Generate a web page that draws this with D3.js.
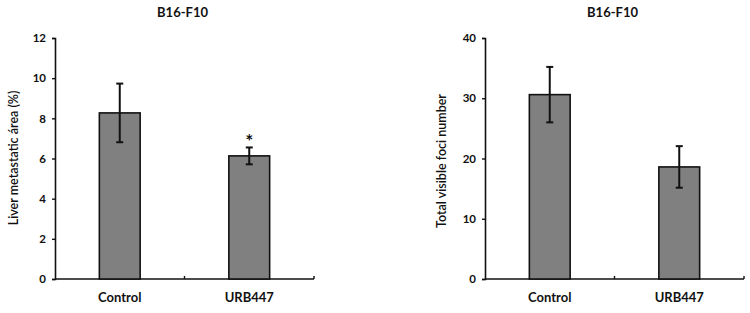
<!DOCTYPE html>
<meta charset="utf-8">
<script src="https://d3js.org/d3.v7.min.js"></script>
<style>
  body { margin: 0; background: #fff; }
  text { font-family: Lato, "Open Sans", sans-serif; font-weight: bold; fill: #111; }
</style>
<div id="chart"></div>
<script>

// data
var groups = ["Control", "URB447"];

var areaMean = [8.27, 6.13];
var areaErr = [1.46, 0.42];   // half-length of error bars
var areaTicks = [0, 2, 4, 6, 8, 10, 12];

var fociMean = [30.6, 18.6];
var fociErr = [4.6, 3.45];
var fociTicks = [0, 10, 20, 30, 40];

var svg = d3.select("#chart")
  .append("svg")
    .attr("width", 750)
    .attr("height", 313);

// one panel = title, y axis, bars, error bars
function panel(opts) {
  var g = svg.append("g")
    .attr("transform", "translate(" + opts.left + ",0)");

  var top = 38, bottom = 279, width = 259;

  var x = d3.scaleBand()
    .domain(groups)
    .range([0, width]);

  var y = d3.scaleLinear()
    .domain([0, opts.max])
    .range([bottom, top]);

  var barW = x.bandwidth() * 0.315;

  // title
  g.append("text")
    .attr("x", width / 2 - 2)
    .attr("y", 17)
    .attr("text-anchor", "middle")
    .style("font-size", "13px")
    .text("B16-F10");

  // y axis
  var yAxis = g.append("g")
    .call(d3.axisLeft(y).tickValues(opts.ticks).tickSize(3).tickPadding(6));
  yAxis.select(".domain").attr("stroke", "#111").attr("stroke-width", 1.6);
  yAxis.selectAll(".tick line").attr("stroke", "#111").attr("stroke-width", 1.4);
  yAxis.selectAll("text")
    .style("font-size", "11.5px")
    .style("font-family", "Lato, sans-serif")
    .style("font-weight", "bold")
    .attr("fill", "#111");

  // y label (x is relative to the panel)
  g.append("text")
    .attr("transform", "translate(" + opts.labelX + "," + opts.labelY + ")rotate(-90)")
    .attr("text-anchor", "middle")
    .style("font-size", "12.5px")
    .style("font-weight", "600")
    .text(opts.label);

  // x axis line with small inward ticks between categories
  g.append("line")
    .attr("x1", 0).attr("x2", width)
    .attr("y1", bottom).attr("y2", bottom)
    .attr("stroke", "#111").attr("stroke-width", 1.6);
  g.selectAll(".xtick")
    .data(groups)
    .enter()
    .append("line")
      .attr("x1", function(d) { return x(d) + x.bandwidth(); })
      .attr("x2", function(d) { return x(d) + x.bandwidth(); })
      .attr("y1", bottom)
      .attr("y2", bottom - 3)
      .attr("stroke", "#111").attr("stroke-width", 1.4);

  // x labels
  g.selectAll(".xlab")
    .data(groups)
    .enter()
    .append("text")
      .attr("x", function(d) { return x(d) + x.bandwidth() / 2; })
      .attr("y", 302)
      .attr("text-anchor", "middle")
      .style("font-size", "13px")
      .text(function(d) { return d; });

  // bars
  g.selectAll("rect")
    .data(opts.mean)
    .enter()
    .append("rect")
      .attr("x", function(d, i) { return x(groups[i]) + x.bandwidth() / 2 - barW / 2; })
      .attr("y", function(d) { return y(d); })
      .attr("width", barW)
      .attr("height", function(d) { return bottom - y(d); })
      .attr("fill", "#808080")
      .attr("stroke", "#111")
      .attr("stroke-width", 1.6);

  // error bars
  var eb = g.selectAll(".err")
    .data(opts.mean)
    .enter()
    .append("g");
  eb.append("line")
    .attr("x1", function(d, i) { return x(groups[i]) + x.bandwidth() / 2; })
    .attr("x2", function(d, i) { return x(groups[i]) + x.bandwidth() / 2; })
    .attr("y1", function(d, i) { return y(d + opts.err[i]); })
    .attr("y2", function(d, i) { return y(d - opts.err[i]); })
    .attr("stroke", "#111").attr("stroke-width", 2);
  [1, -1].forEach(function(s) {
    eb.append("line")
      .attr("x1", function(d, i) { return x(groups[i]) + x.bandwidth() / 2 - 3.5; })
      .attr("x2", function(d, i) { return x(groups[i]) + x.bandwidth() / 2 + 3.5; })
      .attr("y1", function(d, i) { return y(d + s * opts.err[i]); })
      .attr("y2", function(d, i) { return y(d + s * opts.err[i]); })
      .attr("stroke", "#111").attr("stroke-width", 2);
  });

  // significance mark
  if (opts.star != null) {
    var i = opts.star;
    g.append("text")
      .attr("x", x(groups[i]) + x.bandwidth() / 2)
      .attr("y", y(opts.mean[i] + opts.err[i]) + 1)
      .attr("text-anchor", "middle")
      .style("font-size", "19px")
      .text("*");
  }
}

panel({
  left: 55, max: 12, ticks: areaTicks, mean: areaMean, err: areaErr,
  label: "Liver metastatic área (%)", labelX: -37, labelY: 158, star: 1
});

panel({
  left: 485, max: 40, ticks: fociTicks, mean: fociMean, err: fociErr,
  label: "Total visible foci number", labelX: -39, labelY: 161, star: null
});

</script>
